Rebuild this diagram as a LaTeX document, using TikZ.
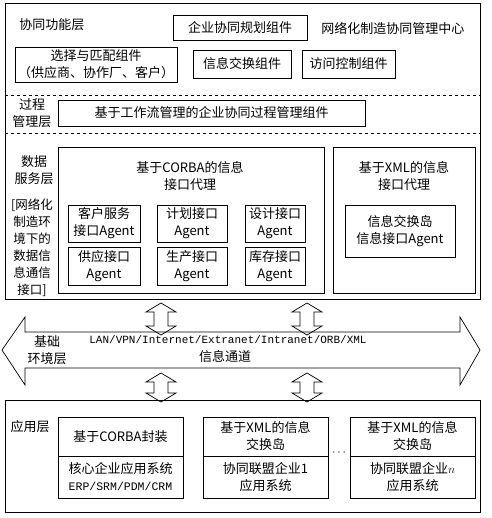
\documentclass[tikz,border=0pt]{standalone}
\usepackage{fontspec}
\setmainfont{Noto Sans CJK SC}
\setmonofont{Liberation Mono}
\usetikzlibrary{positioning}

\begin{document}
\begin{tikzpicture}[x=1pt,y=-1pt,line width=0.8pt,
                    box/.style={draw,rectangle,inner sep=1pt,align=center,
                                font=\fontsize{13}{17}\selectfont},
                    lbl/.style={inner sep=0pt,align=center,
                                font=\fontsize{13}{17}\selectfont},
                    frame/.style={draw,line width=0.7pt}]

  \useasboundingbox (0,0) rectangle (491,518);

  % layer frames
  \draw[frame] (5,3) rectangle (480,299);
  \draw[frame,dashed] (5,95) -- (480,95);
  \draw[frame,dashed] (5,133) -- (480,133);
  \draw[frame] (5,400) rectangle (480,512);

  % collaboration layer
  \node[lbl,anchor=west] (funLbl) at (19,25) {协同功能层};
  \node[box,minimum width=134,minimum height=25] (plan) at (240,27.5) {企业协同规划组件};
  \node[lbl,anchor=west] (center) at (321,28) {网络化制造协同管理中心};
  \node[box,minimum width=162,minimum height=35] (select) at (96,64.5)
       {选择与匹配组件\\（供应商、协作厂、客户）};
  \node[box,minimum width=98,minimum height=28] (exch) at (242,64) {信息交换组件};
  \node[box,minimum width=93,minimum height=28] (access) at (348.5,64) {访问控制组件};

  % process layer
  \node[lbl] (procLbl) at (32,113) {过程\\管理层};
  \node[box,minimum width=307,minimum height=26] (proc) at (211.5,113)
       {基于工作流管理的企业协同过程管理组件};

  % data service layer
  \node[lbl] (dataLbl) at (34,170) {数据\\服务层};
  \node[lbl,font=\fontsize{12.5}{17}\selectfont] (dataNote) at (32,248)
       {[网络化\\制造环\\境下的\\数据信\\息通信\\接口]};
  \node[draw,minimum width=266,minimum height=146] (corba) at (191,220) {};
  \node[lbl] (corbaTtl) at (190,176) {基于CORBA的信息\\接口代理};
  \node[box,minimum width=72,minimum height=37] (cust) at (104,223.5) {客户服务\\接口Agent};
  \node[box,minimum width=70,minimum height=37] (planA) at (192,223.5) {计划接口\\Agent};
  \node[box,minimum width=60,minimum height=37] (design) at (275,223.5) {设计接口\\Agent};
  \node[box,minimum width=72,minimum height=38] (supply) at (104,266) {供应接口\\Agent};
  \node[box,minimum width=70,minimum height=38] (prod) at (192,266) {生产接口\\Agent};
  \node[box,minimum width=60,minimum height=38] (stock) at (275,266) {库存接口\\Agent};
  \node[draw,minimum width=142,minimum height=146] (xml) at (404,220) {};
  \node[lbl] (xmlTtl) at (404,176) {基于XML的信息\\接口代理};
  \node[box,minimum width=110,minimum height=52] (island) at (400,231)
       {信息交换岛\\信息接口Agent};

  % information channel
  \draw[frame] (2,350) -- (25,317) -- (25,332) -- (460,332) -- (460,317)
        -- (480,350) -- (460,385) -- (460,368) -- (25,368) -- (25,385) -- cycle;
  \node[lbl] (baseLbl) at (47,350) {基础\\环境层};
  \node[lbl,font=\fontsize{11}{17}\ttfamily] (net) at (228,340)
       {LAN/VPN/Internet/Extranet/Intranet/ORB/XML};
  \node[lbl] (chan) at (225,357) {信息通道};
  \foreach \c in {161,307}
    \foreach \ya/\yb in {303/335,373/402}
      \draw[frame] (\c,\ya) -- (\c+15,\ya+9) -- (\c+7,\ya+9) -- (\c+7,\yb-9)
            -- (\c+15,\yb-9) -- (\c,\yb) -- (\c-15,\yb-9) -- (\c-7,\yb-9)
            -- (\c-7,\ya+9) -- (\c-15,\ya+9) -- cycle;

  % application layer
  \node[lbl] (appLbl) at (30,427) {应用层};
  \node[box,minimum width=125,minimum height=39] (corbaPk) at (120.5,436.5) {基于CORBA封装};
  \node[box,minimum width=125,minimum height=42] (core) at (120.5,477)
       {核心企业应用系统\\{\fontsize{11.5}{14}\ttfamily ERP/SRM/PDM/CRM}};
  \node[box,minimum width=125,minimum height=39] (isl1) at (265.5,436.5) {基于XML的信息\\交换岛};
  \node[box,minimum width=125,minimum height=42] (ent1) at (265.5,477) {协同联盟企业1\\应用系统};
  \node[lbl] (dots) at (339,453) {$\cdots$};
  \node[box,minimum width=125,minimum height=39] (isln) at (412.5,436.5) {基于XML的信息\\交换岛};
  \node[box,minimum width=125,minimum height=42] (entn) at (412.5,477) {协同联盟企业$n$\\应用系统};
\end{tikzpicture}
\end{document}
